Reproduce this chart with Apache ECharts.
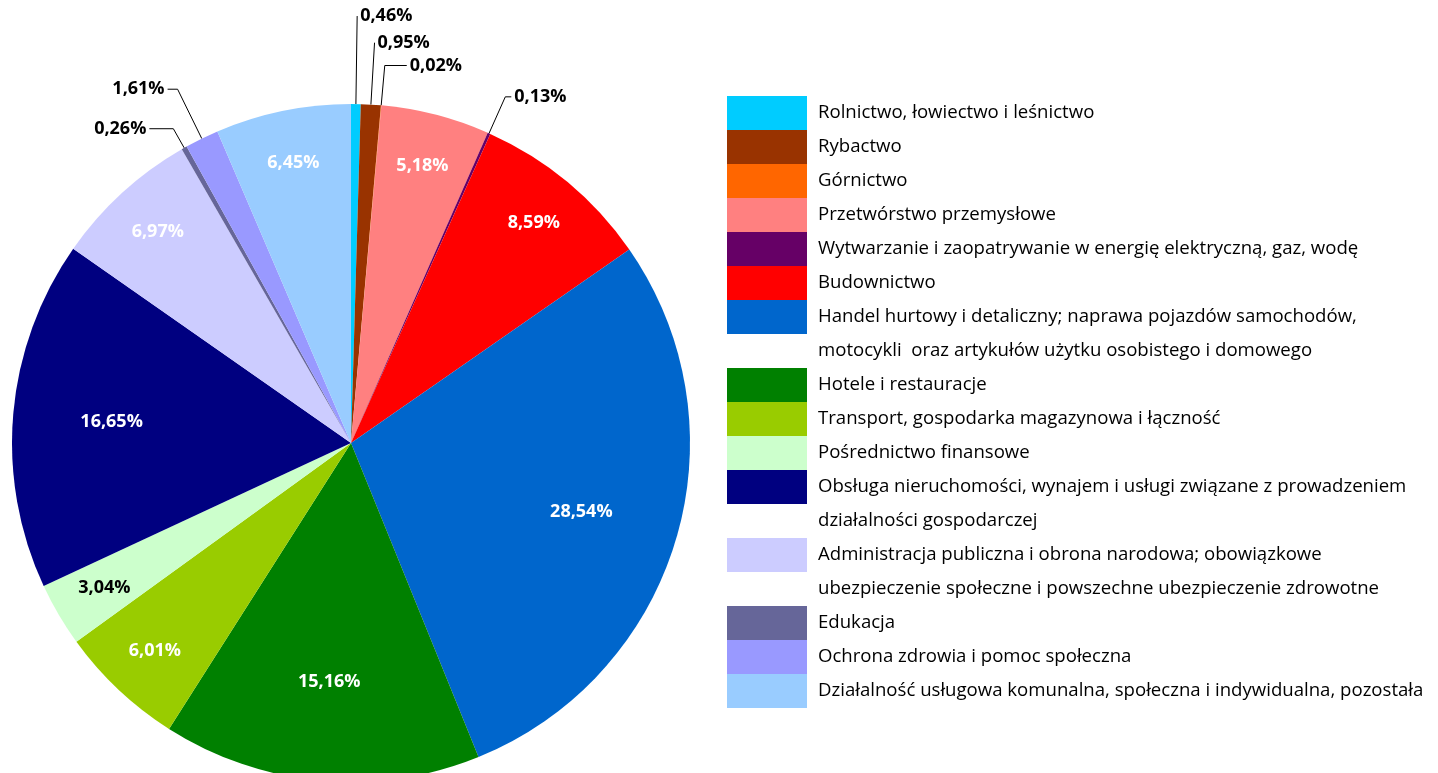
<!DOCTYPE html>
<html>
<head>
<meta charset="utf-8">
<script src="https://cdn.jsdelivr.net/npm/echarts@6/dist/echarts.min.js"></script>
<style>
  html, body { margin: 0; padding: 0; background: #fff; }
  #chart { width: 1438px; height: 773px; }
</style>
</head>
<body>
<div id="chart"></div>
<script>
// Sectors of the economy, each name split into the lines shown in the legend
const sectorLines = [
  ['Rolnictwo, łowiectwo i leśnictwo'],
  ['Rybactwo'],
  ['Górnictwo'],
  ['Przetwórstwo przemysłowe'],
  ['Wytwarzanie i zaopatrywanie w energię elektryczną, gaz, wodę'],
  ['Budownictwo'],
  ['Handel hurtowy i detaliczny; naprawa pojazdów samochodów,', 'motocykli  oraz artykułów użytku osobistego i domowego'],
  ['Hotele i restauracje'],
  ['Transport, gospodarka magazynowa i łączność'],
  ['Pośrednictwo finansowe'],
  ['Obsługa nieruchomości, wynajem i usługi związane z prowadzeniem', 'działalności gospodarczej'],
  ['Administracja publiczna i obrona narodowa; obowiązkowe', 'ubezpieczenie społeczne i powszechne ubezpieczenie zdrowotne'],
  ['Edukacja'],
  ['Ochrona zdrowia i pomoc społeczna'],
  ['Działalność usługowa komunalna, społeczna i indywidualna, pozostała']
];

// Share of each sector, in percent
const shares = [0.46, 0.95, 0.02, 5.18, 0.13, 8.59, 28.54, 15.16, 6.01, 3.04, 16.65, 6.97, 0.26, 1.61, 6.45];

// Slice colours, in the same order
const sliceColors = ['#00CCFF', '#993300', '#FF6600', '#FF8080', '#660066', '#FF0000', '#0066CC',
  '#008000', '#99CC00', '#CCFFCC', '#000080', '#CCCCFF', '#666699', '#9999FF', '#99CCFF'];

const FONT = 'Open Sans';
const CENTER = [351, 443];
const R = 339;
const ROW = 34;

const sectorNames = sectorLines.map(l => l.join(' '));
const linesByName = {};
sectorNames.forEach((n, i) => { linesByName[n] = sectorLines[i]; });

const fmtPct = v => v.toFixed(2).replace('.', ',') + '%';

// small slices get their value outside, with a leader line
const isSmall = v => v < 2;
// the biggest slices carry their value a bit closer to the centre
const isLarge = v => v > 15;

// leader line lengths [radial, horizontal] for the outside values, by sector
const leaderLengths = {
  0: [88, 0],
  1: [62, 0],
  2: [40, 22],
  4: [40, 6],
  12: [22, 24],
  13: [55, 10]
};

const labelText = p => fmtPct(shares[p.dataIndex]);

const baseLabel = {
  fontFamily: FONT,
  fontWeight: 'bold',
  fontSize: 18,
  formatter: labelText
};

// main pie: slices and the outside values
const mainData = shares.map((v, i) => {
  const small = isSmall(v);
  const len = leaderLengths[i] || [20, 10];
  return {
    name: sectorNames[i],
    value: v,
    itemStyle: { color: sliceColors[i] },
    label: small
      ? Object.assign({ show: true, position: 'outside', color: '#000', distanceToLabelLine: 3 }, baseLabel)
      : { show: false },
    labelLine: small
      ? { show: true, length: len[0], length2: len[1], smooth: false, lineStyle: { color: '#000', width: 1 } }
      : { show: false }
  };
});

// transparent rings that only place the in-slice values
function labelRing(radius, pick) {
  return {
    type: 'pie',
    silent: true,
    center: CENTER,
    radius: radius,
    startAngle: 90,
    emphasis: { disabled: true },
    itemStyle: { color: 'rgba(0,0,0,0)' },
    labelLine: { show: false },
    data: shares.map((v, i) => ({
      name: sectorNames[i],
      value: v,
      label: pick(v)
        ? Object.assign({ show: true, position: 'inside', color: sliceColors[i] === '#CCFFCC' ? '#000' : '#fff' }, baseLabel)
        : { show: false }
    }))
  };
}

const legendData = sectorNames.map(n => ({ name: n, icon: 'rect' }));

const chart = echarts.init(document.getElementById('chart'), null, { renderer: 'canvas' });
chart.setOption({
  animation: false,
  backgroundColor: '#fff',
  legend: {
    orient: 'vertical',
    left: 727,
    top: 96,
    height: 670,
    padding: 0,
    itemWidth: 80,
    itemHeight: ROW,
    itemGap: 0,
    selectedMode: false,
    data: legendData,
    formatter: name => {
      const lines = linesByName[name];
      // a clear full-height glyph closes the second line so the next row starts below it
      return lines.length > 1 ? lines[0] + '\n' + lines[1] + '{s|.}' : lines[0];
    },
    textStyle: {
      fontFamily: FONT,
      fontSize: 18.6,
      color: '#000',
      lineHeight: ROW,
      height: ROW,
      padding: [0, 0, 0, 6],
      rich: { s: { fontFamily: FONT, fontSize: ROW, lineHeight: ROW, color: 'rgba(0,0,0,0)' } }
    }
  },
  series: [
    {
      type: 'pie',
      center: CENTER,
      radius: R,
      startAngle: 90,
      clockwise: true,
      avoidLabelOverlap: true,
      emphasis: { disabled: true },
      data: mainData
    },
    labelRing([R * 0.40, R], isLarge),
    labelRing([R * 0.67, R], v => !isSmall(v) && !isLarge(v))
  ]
});
</script>
</body>
</html>
